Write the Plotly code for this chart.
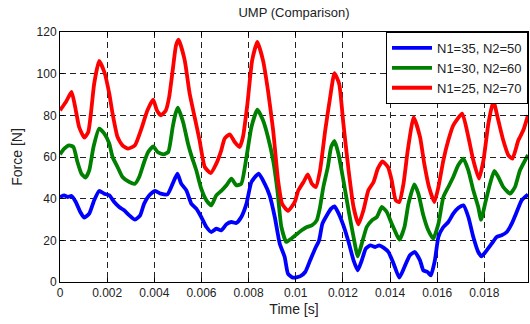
import plotly.graph_objects as go

# time in milliseconds, force in N
red_t = [0.0, 0.25, 0.49, 0.67, 0.81, 1.03, 1.2, 1.31, 1.45, 1.66, 1.88, 2.09, 2.23, 2.44, 2.65, 2.89, 3.18, 3.43, 3.71, 3.95,
         4.11, 4.28, 4.49, 4.63, 4.78, 4.92, 5.03, 5.29, 5.5, 5.71, 5.92, 6.14, 6.39, 6.63, 6.84, 6.98, 7.2, 7.41, 7.62, 7.76,
         7.95, 8.15, 8.37, 8.61, 8.82, 9.04, 9.25, 9.42, 9.67, 9.96, 10.11, 10.33, 10.51, 10.68, 10.85, 11.03, 11.25, 11.46, 11.64, 11.84,
         12.02, 12.24, 12.45, 12.66, 12.87, 13.08, 13.3, 13.48, 13.68, 13.91, 14.07, 14.24, 14.39, 14.57, 14.75, 15.0, 15.27, 15.45, 15.65, 15.88,
         16.05, 16.26, 16.47, 16.68, 17.06, 17.32, 17.53, 17.77, 17.96, 18.17, 18.38, 18.59, 18.8, 19.02, 19.19, 19.44, 19.65, 19.85]
red_v = [82.4, 86.4, 91.2, 82.4, 74.4, 69.3, 72.0, 80.8, 95.2, 106.1, 100.8, 90.4, 80.8, 69.6, 65.6, 64.0, 65.6, 72.8, 82.4, 87.5,
         82.4, 80.0, 82.4, 88.8, 101.6, 113.5, 116.3, 106.4, 90.4, 79.2, 68.0, 55.2, 52.3, 56.8, 63.2, 68.8, 70.9, 67.2, 64.8, 69.6,
         85.6, 106.4, 115.2, 106.4, 92.0, 72.8, 48.8, 37.6, 34.1, 38.5, 44.0, 48.0, 51.7, 47.2, 45.6, 53.6, 72.8, 88.8, 100.3, 95.2,
         76.0, 53.6, 36.0, 27.7, 34.4, 44.0, 48.0, 54.4, 57.9, 55.2, 48.8, 39.2, 38.4, 47.2, 63.2, 79.0, 69.6, 56.8, 45.6, 38.4,
         45.6, 58.4, 68.0, 75.2, 80.8, 69.6, 58.4, 49.6, 58.4, 76.0, 86.9, 77.6, 68.0, 60.8, 59.2, 68.0, 72.8, 80.0]

green_t = [0.0, 0.18, 0.39, 0.57, 0.74, 0.91, 1.08, 1.24, 1.42, 1.66, 1.88, 2.09, 2.23, 2.44, 2.65, 2.94, 3.18, 3.36, 3.57, 3.74,
           3.95, 4.14, 4.39, 4.59, 4.78, 4.9, 5.0, 5.22, 5.43, 5.57, 5.78, 5.99, 6.21, 6.42, 6.63, 6.84, 7.06, 7.27, 7.48, 7.69,
           7.91, 8.12, 8.37, 8.61, 8.82, 9.04, 9.22, 9.39, 9.6, 9.81, 10.04, 10.25, 10.47, 10.68, 10.89, 11.03, 11.17, 11.36, 11.5, 11.64,
           11.81, 12.02, 12.24, 12.45, 12.63, 12.8, 13.01, 13.23, 13.44, 13.65, 13.86, 14.07, 14.29, 14.4, 14.61, 14.78, 15.03, 15.2, 15.41, 15.62,
           15.83, 16.05, 16.26, 16.47, 16.68, 16.89, 17.11, 17.32, 17.53, 17.74, 17.86, 18.03, 18.24, 18.42, 18.59, 18.8, 19.09, 19.3, 19.51, 19.85]
green_v = [61.3, 64.0, 65.6, 64.8, 57.6, 52.0, 50.1, 53.6, 64.8, 73.6, 71.2, 66.4, 60.0, 55.2, 50.4, 48.0, 47.2, 50.4, 57.6, 62.4,
           65.1, 62.4, 61.3, 62.4, 74.4, 80.8, 83.7, 76.8, 66.4, 60.8, 53.6, 44.8, 39.2, 36.8, 41.6, 43.7, 46.4, 49.6, 46.4, 47.2,
           60.0, 74.4, 82.7, 77.6, 69.6, 58.4, 44.0, 26.4, 19.2, 20.8, 22.9, 24.8, 26.4, 27.2, 29.6, 36.0, 45.6, 55.2, 64.8, 67.7,
           61.6, 48.8, 34.4, 21.6, 12.3, 18.4, 26.4, 29.6, 31.2, 36.0, 33.6, 28.0, 22.4, 20.3, 26.4, 37.6, 46.9, 42.4, 32.0, 24.8,
           20.8, 28.0, 40.8, 45.6, 50.4, 56.0, 59.2, 53.6, 44.0, 36.0, 29.9, 37.6, 47.2, 53.3, 50.4, 45.6, 42.4, 45.6, 53.6, 61.0]

blue_t = [0.0, 0.18, 0.32, 0.49, 0.67, 0.86, 1.03, 1.24, 1.45, 1.66, 1.88, 2.09, 2.3, 2.51, 2.72, 2.94, 3.18, 3.4, 3.57, 3.79,
          4.03, 4.28, 4.56, 4.78, 4.98, 5.14, 5.36, 5.57, 5.78, 5.99, 6.21, 6.42, 6.63, 6.84, 7.06, 7.27, 7.48, 7.69, 7.91, 8.12,
          8.43, 8.68, 8.89, 9.11, 9.32, 9.53, 9.67, 9.88, 10.18, 10.4, 10.61, 10.82, 10.99, 11.13, 11.32, 11.5, 11.64, 11.81, 12.02, 12.24,
          12.45, 12.63, 12.8, 12.97, 13.16, 13.37, 13.54, 13.72, 13.93, 14.15, 14.39, 14.61, 14.84, 15.05, 15.27, 15.41, 15.59, 15.73, 15.9, 16.05,
          16.26, 16.47, 16.68, 16.89, 17.11, 17.32, 17.53, 17.74, 17.88, 18.1, 18.31, 18.52, 18.73, 18.95, 19.16, 19.37, 19.58, 19.85]
blue_v = [40.8, 41.6, 40.8, 41.3, 38.4, 33.6, 30.9, 32.8, 39.2, 43.7, 42.4, 41.6, 38.4, 36.0, 34.4, 32.0, 29.9, 32.0, 37.6, 41.6,
          43.7, 42.4, 42.1, 47.2, 52.0, 47.2, 44.0, 37.6, 35.2, 31.2, 26.4, 24.0, 25.6, 24.8, 27.7, 28.8, 28.3, 31.2, 37.6, 48.0,
          52.0, 47.2, 41.6, 31.2, 18.4, 12.0, 4.0, 2.1, 2.7, 4.8, 10.4, 16.0, 20.0, 28.0, 32.0, 35.2, 36.3, 33.1, 27.2, 19.2,
          10.4, 5.6, 10.4, 16.0, 17.6, 16.8, 17.6, 16.5, 14.4, 8.8, 2.1, 7.2, 12.8, 14.4, 10.4, 5.6, 4.8, 3.2, 10.4, 21.6,
          26.4, 28.8, 32.8, 35.5, 36.8, 31.2, 21.6, 14.4, 12.3, 15.2, 18.4, 21.6, 22.4, 24.0, 28.0, 33.6, 39.2, 42.0]

series_names = ["N1=35, N2=50", "N1=30, N2=60", "N1=25, N2=70"]
series_colors = ["#0000FF", "#008000", "#FF0000"]

x_tickvals = [0, 0.002, 0.004, 0.006, 0.008, 0.01, 0.012, 0.014, 0.016, 0.018]
x_ticktext = ["0", "0.002", "0.004", "0.006", "0.008", "0.01", "0.012", "0.014", "0.016", "0.018"]
y_tickvals = [0, 20, 40, 60, 80, 100, 120]

FONT = "Arial"

fig = go.Figure()
for (tt, vv), name, col in zip([(blue_t, blue_v), (green_t, green_v), (red_t, red_v)], series_names, series_colors):
    fig.add_trace(go.Scatter(
        x=[t / 1000 for t in tt], y=vv, mode="lines", name=name,
        line=dict(color=col, width=3.8, shape="spline", smoothing=0.5),
    ))

axis_common = dict(
    showline=True, linecolor="black", linewidth=1, mirror="ticks",
    ticks="inside", ticklen=4, tickcolor="black",
    showgrid=True, gridcolor="#222222", gridwidth=1, griddash="6px,4px",
    zeroline=False, automargin=False,
    tickfont=dict(family=FONT, size=12, color="#222222"),
)

fig.update_xaxes(range=[0, 0.01985], tickvals=x_tickvals, ticktext=x_ticktext,
                 title=dict(text="Time [s]", font=dict(family=FONT, size=14, color="#222222"), standoff=4),
                 **axis_common)
fig.update_yaxes(range=[0, 120], tickvals=y_tickvals,
                 title=dict(text="Force [N]", font=dict(family=FONT, size=14, color="#222222"), standoff=10),
                 **axis_common)

fig.update_layout(
    width=530, height=324,
    margin=dict(l=60, r=2, t=32, b=42, autoexpand=False),
    paper_bgcolor="white", plot_bgcolor="white",
    title=dict(text="UMP (Comparison)", x=0.5, xref="paper", y=1 - 12 / 324, yanchor="middle",
               font=dict(family=FONT, size=13, color="#222222")),
    legend=dict(x=1, y=1, xanchor="right", yanchor="top", bgcolor="white",
                bordercolor="black", borderwidth=1,
                font=dict(family=FONT, size=13, color="#222222"),
                tracegroupgap=0, itemwidth=40),
    showlegend=True,
)

fig.write_html("out.html", config={"displayModeBar": False},
               post_script="document.body.style.margin='0';document.body.style.padding='0';")
